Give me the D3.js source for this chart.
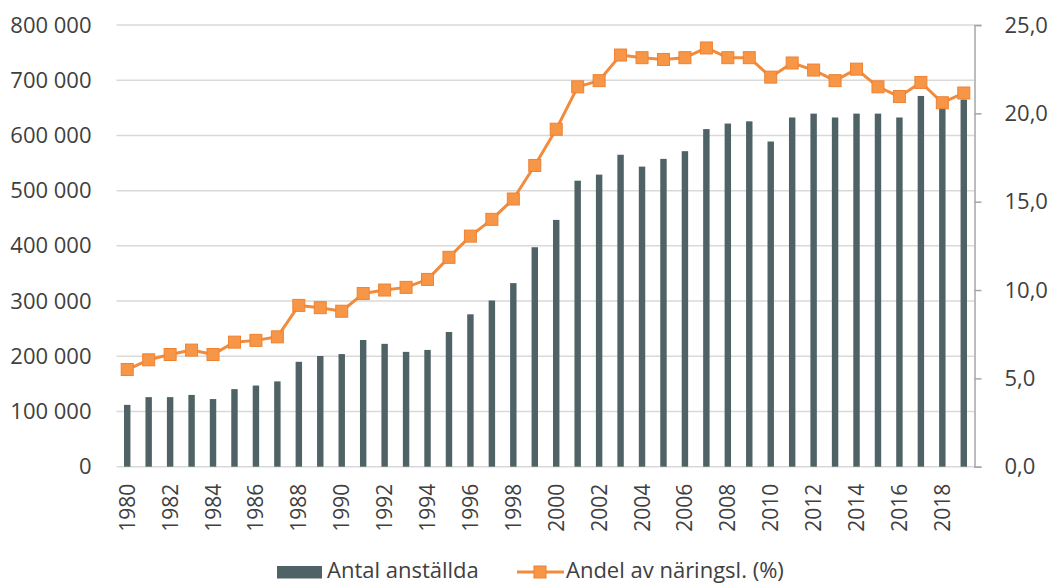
<!DOCTYPE html>
<html>
<head>
<meta charset="utf-8">
<script src="https://cdn.jsdelivr.net/npm/d3@7"></script>
<style>
  body { margin: 0; background: #fff; }
  svg text { font-family: "Open Sans", sans-serif; fill: #404040; }
</style>
</head>
<body>
<div id="chart"></div>
<script>
const years = d3.range(1980, 2020);

// Antal anställda
const employees = [
  112000, 126000, 126000, 130000, 122500, 140500, 147000, 154500, 190000, 200500,
  204000, 229500, 222500, 208000, 211500, 244000, 276000, 301000, 332500, 397500,
  447000, 518000, 529000, 565000, 543500, 557500, 571500, 611500, 621500, 625500,
  589000, 632500, 639500, 632500, 639500, 639500, 632500, 671500, 650000, 665000
];

// Andel av näringsl. (%)
const share = [
  5.5, 6.05, 6.35, 6.6, 6.35, 7.05, 7.15, 7.35, 9.13, 9.0,
  8.8, 9.8, 10.0, 10.15, 10.6, 11.85, 13.05, 14.0, 15.15, 17.05,
  19.1, 21.5, 21.85, 23.3, 23.15, 23.05, 23.15, 23.7, 23.15, 23.15,
  22.05, 22.85, 22.45, 21.85, 22.5, 21.5, 20.95, 21.75, 20.6, 21.15
];

const leftTicks = d3.range(0, 800001, 100000);
const rightTicks = [0, 5, 10, 15, 20, 25];
const yearTicks = years.filter(y => y % 2 === 0);

const legendLabels = ["Antal anställda", "Andel av näringsl. (%)"];

const size = { x: 1053, y: 584 };
const plot = { left: 116.5, right: 974.5, top: 25, bottom: 466.7 };

const barColor = "#4f6366";
const lineColor = "#f28b3c";
const markerFill = "#f79646";
const markerStroke = "#ee8232";

const locale = d3.formatLocale({ decimal: ",", thousands: " ", grouping: [3], currency: ["", ""] });
const fmtLeft = locale.format(",.0f");
const fmtRight = locale.format(".1f");

const svg = d3.select("#chart")
  .append("svg")
  .attr("width", size.x)
  .attr("height", size.y);

const xScale = d3.scaleBand()
  .domain(years)
  .range([plot.left, plot.right])
  .paddingInner(0.7)
  .paddingOuter(0.35);

const yLeft = d3.scaleLinear()
  .domain([0, 800000])
  .range([plot.bottom, plot.top]);

const yRight = d3.scaleLinear()
  .domain([0, 25])
  .range([plot.bottom, plot.top]);

// gridlines
svg.append("g")
  .selectAll("line")
  .data(leftTicks)
  .join("line")
  .attr("x1", plot.left)
  .attr("x2", plot.right)
  .attr("y1", d => yLeft(d))
  .attr("y2", d => yLeft(d))
  .attr("stroke", "#d9d9d9")
  .attr("stroke-width", 1.5);

// left axis (labels only)
const leftAxis = svg.append("g")
  .attr("transform", `translate(${plot.left},0)`)
  .call(d3.axisLeft(yLeft).tickValues(leftTicks).tickFormat(fmtLeft).tickSize(0).tickPadding(25));
leftAxis.select(".domain").remove();
leftAxis.selectAll("text")
  .attr("font-size", "22px")
  .attr("font-family", "Open Sans")
  .attr("fill", "#404040");

// right axis
const rightAxis = svg.append("g")
  .attr("transform", `translate(${plot.right},0)`)
  .call(d3.axisRight(yRight).tickValues(rightTicks).tickFormat(fmtRight).tickSize(7).tickSizeOuter(7).tickPadding(23));
rightAxis.select(".domain").attr("stroke", "#a6a6a6").attr("stroke-width", 1.5);
rightAxis.selectAll(".tick line").attr("stroke", "#a6a6a6").attr("stroke-width", 1.5);
rightAxis.selectAll("text")
  .attr("font-size", "22px")
  .attr("font-family", "Open Sans")
  .attr("fill", "#404040");

// bottom axis labels
const bottomAxis = svg.append("g")
  .attr("transform", `translate(0,${plot.bottom})`)
  .call(d3.axisBottom(xScale).tickValues(yearTicks).tickSize(0));
bottomAxis.select(".domain").remove();
bottomAxis.selectAll("text")
  .attr("font-size", "21px")
  .attr("font-family", "Open Sans")
  .attr("fill", "#404040")
  .attr("text-anchor", "end")
  .attr("transform", "rotate(-90)")
  .attr("x", -17)
  .attr("y", 0)
  .attr("dy", "0.36em");

// bars
svg.append("g")
  .selectAll("rect")
  .data(years.map((y, i) => [y, employees[i]]))
  .join("rect")
  .attr("x", d => xScale(d[0]))
  .attr("width", xScale.bandwidth())
  .attr("y", d => yLeft(d[1]))
  .attr("height", d => yLeft(0) - yLeft(d[1]))
  .attr("fill", barColor);

// line
const cx = y => xScale(y) + xScale.bandwidth() / 2;
const lineData = years.map((y, i) => [y, share[i]]);

svg.append("path")
  .datum(lineData)
  .attr("fill", "none")
  .attr("stroke", lineColor)
  .attr("stroke-width", 3)
  .attr("stroke-linejoin", "round")
  .attr("d", d3.line().x(d => cx(d[0])).y(d => yRight(d[1])));

const m = 12;
svg.append("g")
  .selectAll("rect")
  .data(lineData)
  .join("rect")
  .attr("x", d => cx(d[0]) - m / 2)
  .attr("y", d => yRight(d[1]) - m / 2)
  .attr("width", m)
  .attr("height", m)
  .attr("fill", markerFill)
  .attr("stroke", markerStroke)
  .attr("stroke-width", 1);

// legend
const legY = 572;
const legend = svg.append("g");
legend.append("rect")
  .attr("x", 277)
  .attr("y", legY - 6)
  .attr("width", 45)
  .attr("height", 12.5)
  .attr("fill", barColor);
legend.append("text")
  .attr("x", 327)
  .attr("y", legY + 6)
  .attr("font-size", "22px")
  .text(legendLabels[0]);

legend.append("line")
  .attr("x1", 517)
  .attr("x2", 564)
  .attr("y1", legY)
  .attr("y2", legY)
  .attr("stroke", lineColor)
  .attr("stroke-width", 3);
legend.append("rect")
  .attr("x", 540 - m / 2)
  .attr("y", legY - m / 2)
  .attr("width", m)
  .attr("height", m)
  .attr("fill", markerFill)
  .attr("stroke", markerStroke);
legend.append("text")
  .attr("x", 566)
  .attr("y", legY + 6)
  .attr("font-size", "22px")
  .text(legendLabels[1]);
</script>
</body>
</html>
